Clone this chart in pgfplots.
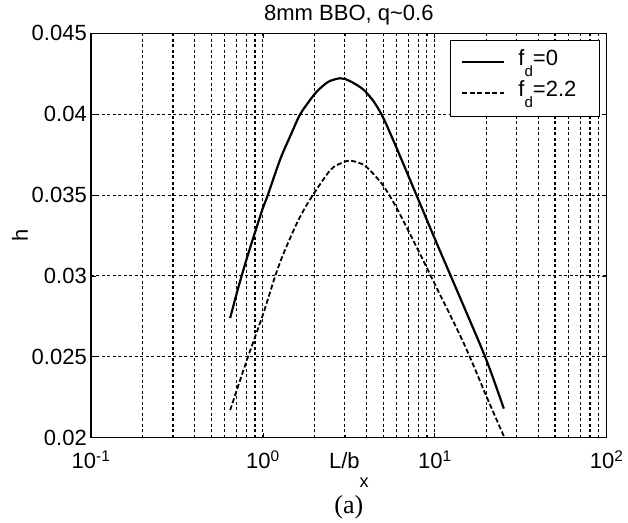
\documentclass[border=0pt]{standalone}
\usepackage{fontspec}
\setmainfont{Liberation Sans}
\newfontfamily\timesfont{Liberation Serif}
\usepackage{pgfplots}
\pgfplotsset{compat=1.18}

\newcommand\bigfont{\fontsize{22bp}{26bp}\selectfont}
% MATLAB style subscript: small and dropped well below the baseline
\newcommand\msub[3]{\raisebox{-#2}{\fontsize{#3}{#3}\selectfont #1}}

\begin{document}
\begin{tikzpicture}
\begin{axis}[
    name=ax,
    xmode=log,
    scale only axis,
    width=515.7bp, height=404.4bp,
    xmin=0.1, xmax=100,
    ymin=0.02, ymax=0.045,
    scaled y ticks=false,
    xtick={0.1,1,10,100},
    xticklabels={10\textsuperscript{-1},10\textsuperscript{0},10\textsuperscript{1},10\textsuperscript{2}},
    ytick={0.02,0.025,0.03,0.035,0.04,0.045},
    yticklabels={0.02,0.025,0.03,0.035,0.04,0.045},
    tick align=inside,
    major tick length=5bp,
    minor tick length=3bp,
    every tick/.style={black, line width=0.8bp},
    axis line style={black, line width=1.3bp},
    xmajorgrids, xminorgrids, ymajorgrids,
    grid style={black, line width=1.1bp, dash pattern=on 3bp off 2.5bp},
    minor grid style={black, line width=1.1bp, dash pattern=on 3bp off 2.5bp},
    tick label style={font=\bigfont},
    yticklabel style={inner sep=0pt, xshift=-4bp},
    xticklabel style={anchor=base, inner sep=0pt, yshift=-31bp},
    title={8mm BBO, q\textasciitilde0.6},
    title style={font=\bigfont, at={(axis description cs:0.5,1)}, anchor=base, yshift=7bp},
    xlabel={L/b\msub{x}{19bp}{18bp}},
    xlabel style={font=\bigfont, at={(axis description cs:0.5,0)}, anchor=base, yshift=-31bp},
    ylabel={h},
    ylabel style={font=\bigfont, at={(axis description cs:-0.1377,0.5)}, anchor=center},
    legend style={font=\bigfont, at={(rel axis cs:1,1)}, anchor=north east,
        xshift=-6.7bp, yshift=-6.7bp, draw=black, line width=1.3bp,
        inner xsep=11bp, inner ysep=10bp, row sep=6bp, column sep=13bp,
        nodes={inner sep=0pt, text height=15bp, text depth=10bp}},
    legend cell align=left,
    legend image code/.code={\draw[#1] (0bp,1.5bp) -- (42bp,1.5bp);},
    clip=false,
]
\addplot[black, line width=2.2bp, smooth, tension=0.5] coordinates {
    (0.645,0.0274) (0.72,0.0293) (0.807,0.0311) (0.9,0.0327) (1.0,0.0342)
    (1.06,0.0349) (1.26,0.0372) (1.45,0.0387) (1.63,0.0399) (1.8,0.0406)
    (2.06,0.0414) (2.4,0.0420) (2.8,0.04222) (3.0,0.04218) (3.4,0.0419)
    (3.86,0.0415) (4.4,0.0408) (5.0,0.0398) (6.0,0.0379) (7.82,0.0350)
    (10,0.0323) (14.1,0.0286) (19.8,0.0249) (25.2,0.0218)
};
\addlegendentry{f\msub{d}{11bp}{15bp}=0}
\addplot[black, line width=1.8bp, dash pattern=on 5bp off 2.5bp, smooth, tension=0.5] coordinates {
    (0.645,0.0217) (0.807,0.0248) (1.0,0.0276) (1.18,0.0300) (1.32,0.0314)
    (1.6,0.0334) (1.9,0.0348) (2.47,0.03655) (2.9,0.0370) (3.23,0.03713)
    (3.8,0.0369) (4.22,0.0365) (5.0,0.0356) (6.0,0.0342) (7.82,0.0318)
    (10,0.0295) (14.8,0.0258) (20,0.02254) (25.2,0.0201)
};
\addlegendentry{f\msub{d}{11bp}{15bp}=2.2\hspace*{12bp}}
\node[font={\timesfont\fontsize{26bp}{30bp}\selectfont}, anchor=base, yshift=-76bp]
    at (axis description cs:0.5,0) {(a)};
\end{axis}
\path[use as bounding box] ([xshift=-91bp,yshift=-85.3bp]ax.south west)
    rectangle ([xshift=21.3bp,yshift=33.3bp]ax.north east);
\end{tikzpicture}
\end{document}
